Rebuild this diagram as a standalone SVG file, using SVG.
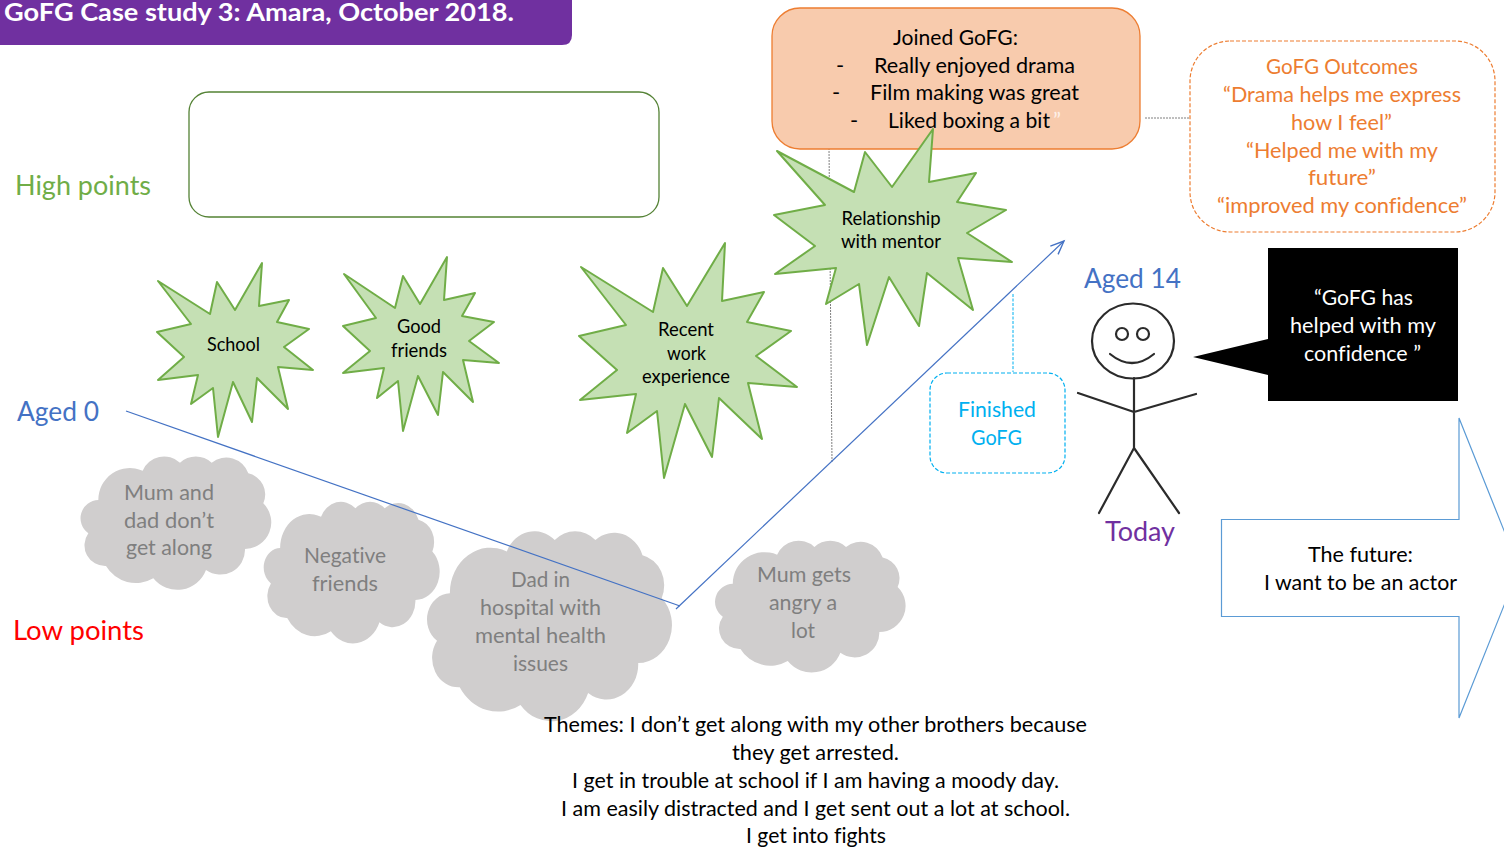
<svg xmlns="http://www.w3.org/2000/svg" xmlns:xlink="http://www.w3.org/1999/xlink" width="1504" height="848" viewBox="0 0 1504 848">
<style>
text{font-family:"Lato","Carlito","Noto Sans",sans-serif;font-size:22px;text-anchor:middle;fill:#000;font-variant-ligatures:none;transform:translateY(.3px)}
.s{font-size:18.5px}
.g{fill:#7f7f7f}
.o{fill:#ed7d31}
.c{fill:#00b0f0}
.w{fill:#fff}
.big{font-size:27px}
.l{text-anchor:start}
.star{fill:#c5e0b4;stroke:#70ad47;stroke-width:2;stroke-linejoin:round}
.cloud{fill:#d0cece}
.stick{fill:none;stroke:#2b2b2b;stroke-width:2.2;stroke-linecap:round;stroke-linejoin:round}
</style>
<defs>
<path id="cloudShape" d="M85,150A95,95 0 0 1 218,62A70,70 0 0 1 330,38A70,70 0 0 1 425,38A70,70 0 0 1 535,70A65,65 0 0 1 580,160A80,80 0 0 1 525,297A74,74 0 0 1 408,360A92,92 0 0 1 250,385A104,104 0 0 1 108,348A62,62 0 0 1 55,250A55,55 0 0 1 85,150Z"/>
<marker id="openArrow" markerUnits="userSpaceOnUse" markerWidth="18" markerHeight="18" refX="13" refY="6" orient="auto" viewBox="0 0 16 12"><path d="M1,1L13,6L1,11" fill="none" stroke="#4472c4" stroke-width="1.2"/></marker>
</defs>
<g id="guides" fill="none" stroke-dasharray="2 1">
<path d="M829,148L832,462" stroke="#7f7f7f"/>
<path d="M1145,118H1190" stroke="#7f7f7f"/>
<path d="M1013,294V372" stroke="#00b0f0" stroke-dasharray="3 1.500"/>
</g>
<g id="title"><path d="M0,0H572V35Q572,45 562,45H0Z" fill="#7030a0"/><text class="l w" x="4" y="20.500" style="font-size:24.500px;font-weight:700" textLength="510" lengthAdjust="spacingAndGlyphs">GoFG Case study 3: Amara, October 2018.</text></g>
<g id="high-label"><text class="big" x="83" y="195" textLength="136" lengthAdjust="spacingAndGlyphs" style="fill:#70ad47">High points</text></g>
<g id="low-label"><text class="big" x="78.500" y="640" textLength="131" lengthAdjust="spacingAndGlyphs" style="fill:#f00">Low points</text></g>
<g id="aged-0"><text class="big" x="58" y="421" textLength="82" lengthAdjust="spacingAndGlyphs" style="fill:#4472c4">Aged 0</text></g>
<g id="high-box"><rect x="189" y="92" width="470" height="125" rx="20" fill="#fff" stroke="#548235" stroke-width="1.300"/></g>
<g id="cloud-parents"><use xlink:href="#cloudShape" href="#cloudShape" class="cloud" transform="translate(70,450) scale(.3333)"/>
<text class="g" x="169" y="500" textLength="90" lengthAdjust="spacingAndGlyphs">Mum and</text><text class="g" x="169" y="528" textLength="90" lengthAdjust="spacingAndGlyphs">dad don’t</text><text class="g" x="169" y="555" textLength="86" lengthAdjust="spacingAndGlyphs">get along</text></g>
<g id="cloud-friends"><use xlink:href="#cloudShape" href="#cloudShape" class="cloud" transform="translate(254,494.900) scale(.3075,.354)"/>
<text class="g" x="345" y="563" textLength="82" lengthAdjust="spacingAndGlyphs">Negative</text><text class="g" x="345" y="591" textLength="66" lengthAdjust="spacingAndGlyphs">friends</text></g>
<g id="cloud-hospital"><use xlink:href="#cloudShape" href="#cloudShape" class="cloud" transform="translate(413.500,522) scale(.428,.475)"/>
<text class="g" x="540.500" y="587" textLength="59" lengthAdjust="spacingAndGlyphs">Dad in</text><text class="g" x="540.500" y="615" textLength="121" lengthAdjust="spacingAndGlyphs">hospital with</text><text class="g" x="540.500" y="643" textLength="131" lengthAdjust="spacingAndGlyphs">mental health</text><text class="g" x="540.500" y="671" textLength="55" lengthAdjust="spacingAndGlyphs">issues</text></g>
<g id="cloud-angry"><use xlink:href="#cloudShape" href="#cloudShape" class="cloud" transform="translate(704.500,534.400) scale(.333,.329)"/>
<text class="g" x="804" y="582" textLength="94" lengthAdjust="spacingAndGlyphs">Mum gets</text><text class="g" x="803" y="610" textLength="68" lengthAdjust="spacingAndGlyphs">angry a</text><text class="g" x="803" y="638" textLength="24" lengthAdjust="spacingAndGlyphs">lot</text></g>
<g id="connectors" fill="none" stroke="#4472c4" stroke-width="1.200">
<path d="M126,411L680,606"/>
<path d="M676,609L1064,241" marker-end="url(#openArrow)"/>
</g>
<g id="star-school"><polygon class="star" points="158,281 210,314 217,282 235,310 262,263 259,306 289,300 277,322 309,329 284,347 313,370 278,367 288,409 257,378 252,422 233,382 218,437 213,388 191,404 198,375 158,380 184,357 157,332 191,324"/>
<text class="s" x="233.500" y="351" textLength="53" lengthAdjust="spacingAndGlyphs">School</text></g>
<g id="star-friends"><polygon class="star" points="344,274 395,308 403,276 420,304 447,257 444,300 475,293 462,316 494,322 469,341 499,363 463,360 473,402 443,372 438,415 418,376 403,431 398,381 377,398 384,368 343,373 370,351 343,326 376,318"/>
<text class="s" x="419" y="333" textLength="44" lengthAdjust="spacingAndGlyphs">Good</text><text class="s" x="419" y="357" textLength="56" lengthAdjust="spacingAndGlyphs">friends</text></g>
<g id="star-work"><polygon class="star" points="581,267 653,312 663,268 687,306 725,243 722,301 764,292 747,322 791,331 756,356 797,387 748,383 762,439 719,398 712,457 685,404 664,478 657,411 627,433 636,394 580,400 617,370 579,336 626,325"/>
<text class="s" x="686" y="336" textLength="56" lengthAdjust="spacingAndGlyphs">Recent</text><text class="s" x="686.500" y="360" textLength="39" lengthAdjust="spacingAndGlyphs">work</text><text class="s" x="686" y="383" textLength="88" lengthAdjust="spacingAndGlyphs">experience</text></g>
<g id="joined"><rect x="772" y="8" width="368" height="141" rx="28" fill="#f8cbad" stroke="#ed7d31" stroke-width="1.300"/>
<text x="955.500" y="45" textLength="125" lengthAdjust="spacingAndGlyphs">Joined GoFG:</text>
<text x="840" y="73">-</text><text x="974.500" y="73" textLength="201" lengthAdjust="spacingAndGlyphs">Really enjoyed drama</text>
<text x="836" y="100">-</text><text x="974.500" y="100" textLength="209" lengthAdjust="spacingAndGlyphs">Film making was great</text>
<text x="854" y="128">-</text><text x="969" y="128" textLength="162" lengthAdjust="spacingAndGlyphs">Liked boxing a bit</text><text x="1057" y="128" style="fill:#fdf0e8">”</text></g>
<g id="star-mentor"><polygon class="star" points="777,151 854,192 865,152 892,187 933,129 929,182 976,173 957,202 1006,210 967,233 1012,262 958,258 973,310 927,273 919,326 889,277 867,345 859,284 826,304 836,268 775,274 815,246 774,215 825,205"/>
<text class="s" x="891" y="225" textLength="99" lengthAdjust="spacingAndGlyphs">Relationship</text><text class="s" x="891" y="248" textLength="100" lengthAdjust="spacingAndGlyphs">with mentor</text></g>
<g id="outcomes"><rect x="1190" y="41" width="305" height="191" rx="40" fill="#fff" stroke="#ed7d31" stroke-width="1.200" stroke-dasharray="4 2"/>
<text class="o" x="1342" y="74" textLength="152" lengthAdjust="spacingAndGlyphs">GoFG Outcomes</text>
<text class="o" x="1342" y="102" textLength="238" lengthAdjust="spacingAndGlyphs">“Drama helps me express</text>
<text class="o" x="1341.500" y="130" textLength="101" lengthAdjust="spacingAndGlyphs">how I feel”</text>
<text class="o" x="1342" y="158" textLength="192" lengthAdjust="spacingAndGlyphs">“Helped me with my</text>
<text class="o" x="1342" y="185" textLength="68" lengthAdjust="spacingAndGlyphs">future”</text>
<text class="o" x="1342" y="213" textLength="250" lengthAdjust="spacingAndGlyphs">“improved my confidence”</text></g>
<g id="finished"><rect x="930" y="373" width="135" height="100" rx="17" fill="#fff" stroke="#00b0f0" stroke-width="1.200" stroke-dasharray="4 2"/>
<text class="c" x="997" y="417" textLength="78" lengthAdjust="spacingAndGlyphs">Finished</text><text class="c" x="996.500" y="445" textLength="51" lengthAdjust="spacingAndGlyphs">GoFG</text></g>
<g id="aged-14"><text class="big" x="1132.500" y="288" textLength="97" lengthAdjust="spacingAndGlyphs" style="fill:#4472c4">Aged 14</text></g>
<g id="stick-figure" class="stick"><ellipse cx="1133" cy="341" rx="41" ry="37.500"/><circle cx="1122" cy="334" r="6"/><circle cx="1143" cy="334" r="6"/><path d="M1110,354Q1132,372 1154,354"/><path d="M1134,378V448M1078,393L1134,412L1196,394M1099,513L1134,448L1179,513"/></g>
<g id="today"><text class="big" x="1140" y="541" textLength="70" lengthAdjust="spacingAndGlyphs" style="fill:#7030a0">Today</text></g>
<g id="quote"><path d="M1268,248H1458V401H1268V375L1193,357L1268,339Z" fill="#000"/>
<text class="w" x="1363.500" y="305" textLength="99" lengthAdjust="spacingAndGlyphs">“GoFG has</text><text class="w" x="1363" y="333" textLength="146" lengthAdjust="spacingAndGlyphs">helped with my</text><text class="w" x="1362.500" y="361" textLength="117" lengthAdjust="spacingAndGlyphs">confidence ”</text></g>
<g id="future"><path d="M1221.500,519.500H1459V418L1519,568L1459,718V616.500H1221.500Z" fill="#fff" stroke="#5b9bd5" stroke-width="1.200"/>
<text x="1360.500" y="562" textLength="105" lengthAdjust="spacingAndGlyphs">The future:</text><text x="1360.500" y="590" textLength="193" lengthAdjust="spacingAndGlyphs">I want to be an actor</text></g>
<g id="themes">
<text x="815.500" y="732" textLength="543" lengthAdjust="spacingAndGlyphs">Themes: I don’t get along with my other brothers because</text>
<text x="815.500" y="760" textLength="167" lengthAdjust="spacingAndGlyphs">they get arrested.</text>
<text x="815.500" y="788" textLength="487" lengthAdjust="spacingAndGlyphs">I get in trouble at school if I am having a moody day.</text>
<text x="815.500" y="816" textLength="509" lengthAdjust="spacingAndGlyphs">I am easily distracted and I get sent out a lot at school.</text>
<text x="816" y="843" textLength="140" lengthAdjust="spacingAndGlyphs">I get into fights</text></g>
</svg>
